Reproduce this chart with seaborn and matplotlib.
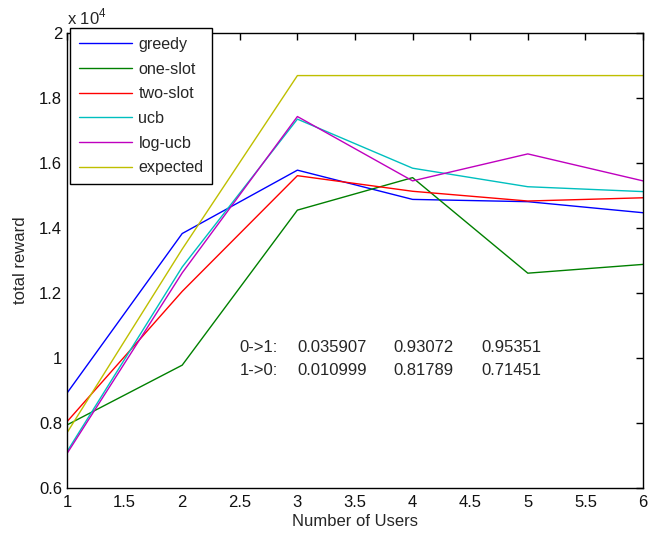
import matplotlib
matplotlib.use("Agg")
import matplotlib.pyplot as plt
import matplotlib.ticker as mticker
import seaborn as sns
import pandas as pd

users = [1, 2, 3, 4, 5, 6]
greedy = [0.892, 1.383, 1.578, 1.488, 1.481, 1.447]
one_slot = [0.794, 0.978, 1.455, 1.555, 1.261, 1.288]
two_slot = [0.804, 1.205, 1.561, 1.513, 1.483, 1.493]
ucb = [0.712, 1.280, 1.735, 1.584, 1.527, 1.512]
log_ucb = [0.706, 1.262, 1.743, 1.545, 1.628, 1.545]
expected = [0.770, 1.335, 1.869, 1.869, 1.869, 1.869]

series_names = ["greedy", "one-slot", "two-slot", "ucb", "log-ucb", "expected"]
series_values = [greedy, one_slot, two_slot, ucb, log_ucb, expected]
colors = ["#0000ff", "#008000", "#ff0000", "#00bfbf", "#bf00bf", "#bfbf00"]

row1_label = "0->1:"
row1_vals = ["0.035907", "0.93072", "0.95351"]
row2_label = "1->0:"
row2_vals = ["0.010999", "0.81789", "0.71451"]

x_ticks = [1, 1.5, 2, 2.5, 3, 3.5, 4, 4.5, 5, 5.5, 6]
y_ticks = [0.6, 0.8, 1.0, 1.2, 1.4, 1.6, 1.8, 2.0]

rows = []
for name, vals in zip(series_names, series_values):
    for u, v in zip(users, vals):
        rows.append({"users": u, "reward": v, "series": name})
df = pd.DataFrame(rows)

sns.set_theme(style="white")
plt.rcParams["font.family"] = ["Liberation Sans", "DejaVu Sans"]
plt.rcParams["mathtext.fontset"] = "custom"
plt.rcParams["mathtext.rm"] = "Liberation Sans"

FS = 12
fig = plt.figure(figsize=(6.48, 5.42), dpi=100)
ax = fig.add_axes([67 / 648, 1 - 488 / 542, (643 - 67) / 648, (488 - 33) / 542])

sns.lineplot(data=df, x="users", y="reward", hue="series", hue_order=series_names,
             palette=colors, linewidth=1.0, ax=ax, legend=True)

ax.set_xlim(1, 6)
ax.set_ylim(0.6, 2.0)
ax.set_xticks(x_ticks)
ax.set_yticks(y_ticks)
fmt = mticker.FuncFormatter(lambda v, p: "%g" % v)
ax.xaxis.set_major_formatter(fmt)
ax.yaxis.set_major_formatter(fmt)
ax.tick_params(direction="in", length=5, width=1, color="black", labelsize=FS,
               top=True, right=True, labelcolor="#111111")
ax.tick_params(axis="y", pad=3.5)
ax.tick_params(axis="x", pad=5)
for s in ax.spines.values():
    s.set_color("black")
    s.set_linewidth(1.0)

ax.set_xlabel("Number of Users", fontsize=FS, labelpad=3)
ax.set_ylabel("total reward", fontsize=FS, labelpad=8)
ax.text(0.0, 1.012, r"x 10$^{4}$", transform=ax.transAxes, fontsize=FS,
        ha="left", va="bottom")

# annotation rows
xs = [2.50, 3.0, 3.83, 4.60]
ax.text(xs[0], 1.031, row1_label, fontsize=FS, va="center", ha="left")
ax.text(xs[0], 0.963, row2_label, fontsize=FS, va="center", ha="left")
for xv, a, b in zip(xs[1:], row1_vals, row2_vals):
    ax.text(xv, 1.031, a, fontsize=FS, va="center", ha="left")
    ax.text(xv, 0.963, b, fontsize=FS, va="center", ha="left")

handles, labels = ax.get_legend_handles_labels()
ax.get_legend().remove()
leg = fig.legend(handles, labels, loc="upper left",
                 bbox_to_anchor=(70 / 648, 1 - 28 / 542), bbox_transform=fig.transFigure,
                 borderaxespad=0, fontsize=11.6, frameon=True, fancybox=False,
                 edgecolor="black", framealpha=1, handlelength=3.3, handletextpad=0.4,
                 labelspacing=0.6, borderpad=0.55)
leg.get_frame().set_linewidth(1.0)
for line in leg.get_lines():
    line.set_linewidth(1.0)

fig.savefig("out.png", dpi=100, facecolor="white")
